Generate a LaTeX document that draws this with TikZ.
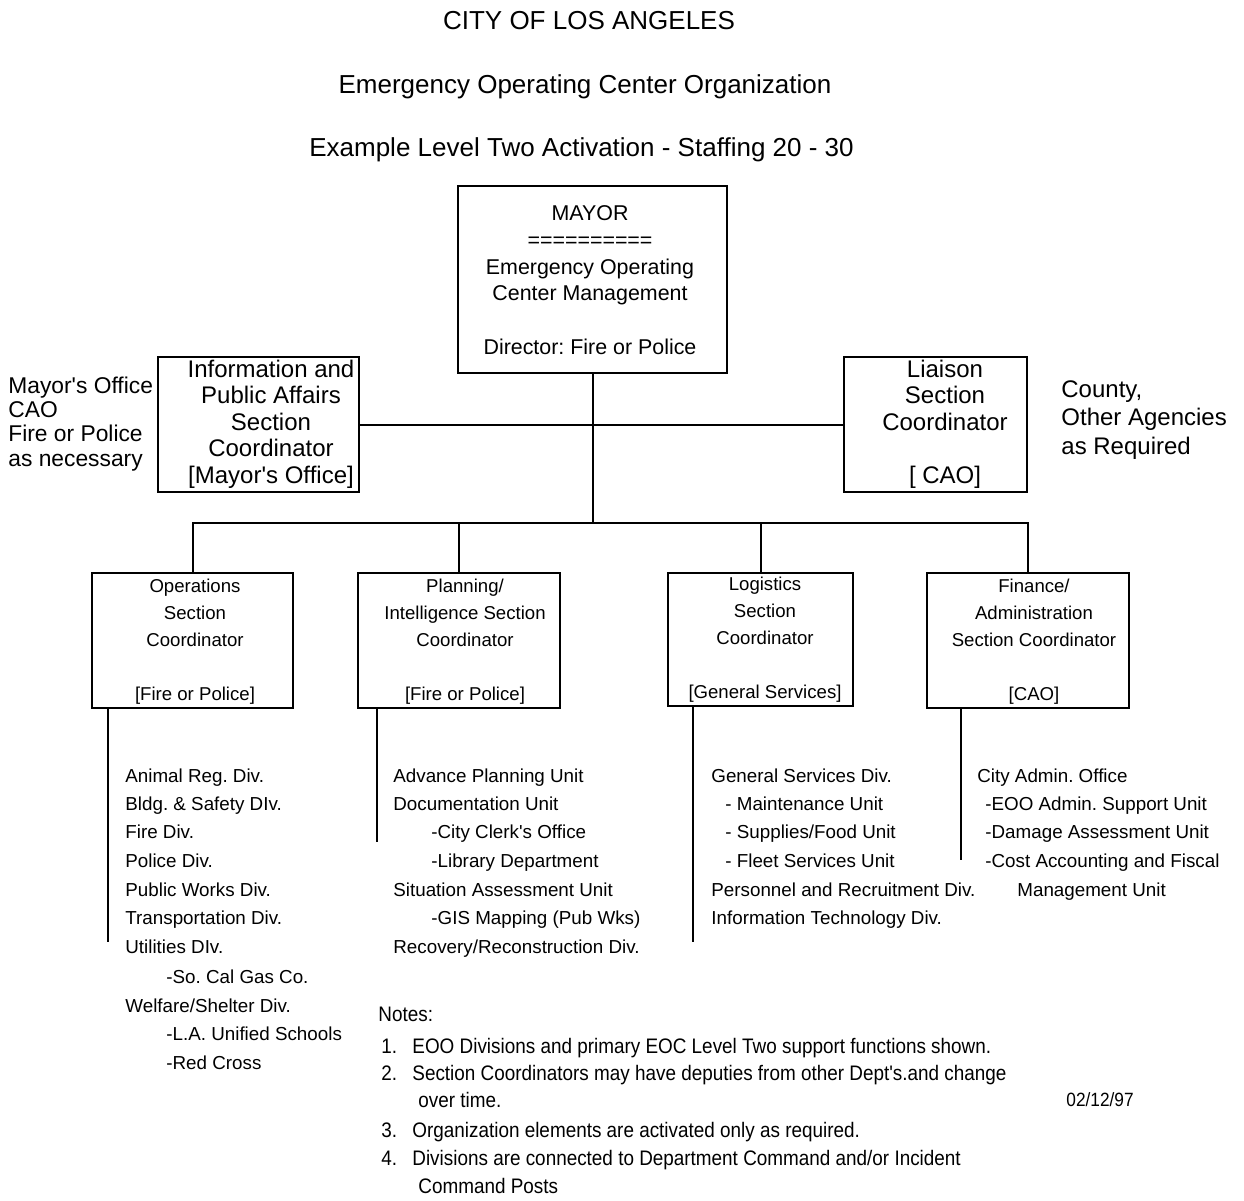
\documentclass[tikz,border=0pt]{standalone}
\usepackage{fontspec}
\setmainfont{Liberation Sans}
\newfontfamily\narrowfont{Liberation Sans}[FakeStretch=0.9]
\usetikzlibrary{positioning}
\frenchspacing

\begin{document}
\begin{tikzpicture}[x=0.5pt,y=-0.5pt,
  box/.style={draw,line width=1pt,inner sep=0pt},
  conn/.style={line width=1pt},
  txt/.style={inner sep=0pt,align=center},
  title/.style={inner sep=0pt,anchor=base,font=\fontsize{13pt}{15pt}\selectfont},
  side/.style={inner sep=0pt,anchor=base west,font=\fontsize{11.4pt}{13pt}\selectfont},
  item/.style={inner sep=0pt,anchor=base west,font=\fontsize{9.4pt}{14pt}\selectfont},
  note/.style={inner sep=0pt,anchor=base west,font=\narrowfont\fontsize{10.5pt}{13pt}\selectfont}]
 \useasboundingbox (0,0) rectangle (1244,1201);

 % titles
 \node[title] (t1) at (589,29) {CITY OF LOS ANGELES};
 \node[title] (t2) at (585,93) {Emergency Operating Center Organization};
 \node[title] (t3) at (581.5,156) {Example Level Two Activation - Staffing 20 - 30};

 % boxes
 \node[box,minimum width=134.5pt,minimum height=93.5pt] (mayor) at (592.5,279.5) {};
 \node[box,minimum width=100.5pt,minimum height=67.5pt] (info) at (258.5,424.5) {};
 \node[box,minimum width=91.5pt,minimum height=67.5pt] (liaison) at (935.5,424.5) {};
 \node[box,minimum width=100.5pt,minimum height=67.5pt] (ops) at (192.5,640.5) {};
 \node[box,minimum width=101pt,minimum height=67.5pt] (plan) at (459,640.5) {};
 \node[box,minimum width=92.5pt,minimum height=66.5pt] (log) at (760.5,639.5) {};
 \node[box,minimum width=101pt,minimum height=67.5pt] (fin) at (1028,640.5) {};

 % box texts
 \node[txt,font=\fontsize{10.7pt}{13.35pt}\selectfont] (mayor-t) at (590,280)
  {MAYOR\\==========\\Emergency Operating\\Center Management\\~\\Director: Fire or Police};
 \node[txt,font=\fontsize{12pt}{13.25pt}\selectfont] (info-t) at (271,424)
  {Information and\\Public Affairs\\Section\\Coordinator\\{[Mayor\textquotesingle s Office]}};
 \node[txt,font=\fontsize{12pt}{13.25pt}\selectfont] (liaison-t) at (945,424)
  {Liaison\\Section\\Coordinator\\~\\{[ CAO]}};
 \node[txt,font=\fontsize{9.3pt}{13.5pt}\selectfont] (ops-t) at (195,642)
  {Operations\\Section\\Coordinator\\~\\{[Fire or Police]}};
 \node[txt,font=\fontsize{9.3pt}{13.5pt}\selectfont] (plan-t) at (465,642)
  {Planning/\\Intelligence Section\\Coordinator\\~\\{[Fire or Police]}};
 \node[txt,font=\fontsize{9.3pt}{13.5pt}\selectfont] (log-t) at (765,640)
  {Logistics\\Section\\Coordinator\\~\\{[General Services]}};
 \node[txt,font=\fontsize{9.3pt}{13.5pt}\selectfont] (fin-t) at (1034,642)
  {Finance/\\Administration\\Section Coordinator\\~\\{[CAO]}};

 % side notes
 \foreach \y/\t [count=\i] in {393/{Mayor\textquotesingle s Office},417/{CAO},441/{Fire or Police},466/{as necessary}}
  \node[side] (left-\i) at (8,\y) {\t};
 \node[side,font=\fontsize{12pt}{13pt}\selectfont] (right-1) at (1061,397) {County,};
 \node[side,font=\fontsize{12pt}{13pt}\selectfont] (right-2) at (1061,425) {Other Agencies};
 \node[side,font=\fontsize{12pt}{13pt}\selectfont] (right-3) at (1061,454) {as Required};

 % connectors
 \path (mayor.south) ++(0,149) coordinate (hub);
 \draw[conn] (mayor.south) -- (hub);
 \draw[conn] (info) -- (liaison);
 \foreach \b in {ops,plan,log,fin}
  \draw[conn] (hub) -| (\b.north);
 \foreach \b/\x/\y in {ops/108/942,plan/377/842,log/693/942,fin/961/860} {
  \coordinate (\b-end) at (\x,\y);
  \draw[conn] (\b.south -| \b-end) -- (\b-end);
 }

 % divisions
 \foreach \x/\y/\t [count=\i] in {125/782/{Animal Reg. Div.},125/810/{Bldg. \& Safety DIv.},
   125/838/{Fire Div.},125/867/{Police Div.},125/896/{Public Works Div.},
   125/924/{Transportation Div.},125/953/{Utilities DIv.},166/983/{-So. Cal Gas Co.},
   125/1012/{Welfare/Shelter Div.},166/1040/{-L.A. Unified Schools},166/1069/{-Red Cross}}
  \node[item] (ops-\i) at (\x,\y) {\t};
 \foreach \x/\y/\t [count=\i] in {393/782/{Advance Planning Unit},393/810/{Documentation Unit},
   431/838/{-City Clerk\textquotesingle s Office},431/867/{-Library Department},
   393/896/{Situation Assessment Unit},431/924/{-GIS Mapping (Pub Wks)},
   393/953/{Recovery/Reconstruction Div.}}
  \node[item] (plan-\i) at (\x,\y) {\t};
 \foreach \x/\y/\t [count=\i] in {711/782/{General Services Div.},725/810/{- Maintenance Unit},
   725/838/{- Supplies/Food Unit},725/867/{- Fleet Services Unit},
   711/896/{Personnel and Recruitment Div.},711/924/{Information Technology Div.}}
  \node[item] (log-\i) at (\x,\y) {\t};
 \foreach \x/\y/\t [count=\i] in {977/782/{City Admin. Office},985/810/{-EOO Admin. Support Unit},
   985/838/{-Damage Assessment Unit},985/867/{-Cost Accounting and Fiscal},
   1017/896/{Management Unit}}
  \node[item] (fin-\i) at (\x,\y) {\t};

 % notes
 \node[note] (notes) at (378,1021) {Notes:};
 \foreach \x/\y/\t [count=\i] in {
   381/1053/{\makebox[15.5pt][l]{1.}EOO Divisions and primary EOC Level Two support functions shown.},
   381/1080/{\makebox[15.5pt][l]{2.}Section Coordinators may have deputies from other Dept's.and change},
   418/1107/{over time.},
   381/1137/{\makebox[15.5pt][l]{3.}Organization elements are activated only as required.},
   381/1165/{\makebox[15.5pt][l]{4.}Divisions are connected to Department Command and/or Incident},
   418/1193/{Command Posts}}
  \node[note] (note-\i) at (\x,\y) {\t};
 \node[note,font=\narrowfont\fontsize{9.6pt}{12pt}\selectfont] (date) at (1066,1106) {02/12/97};
\end{tikzpicture}
\end{document}
